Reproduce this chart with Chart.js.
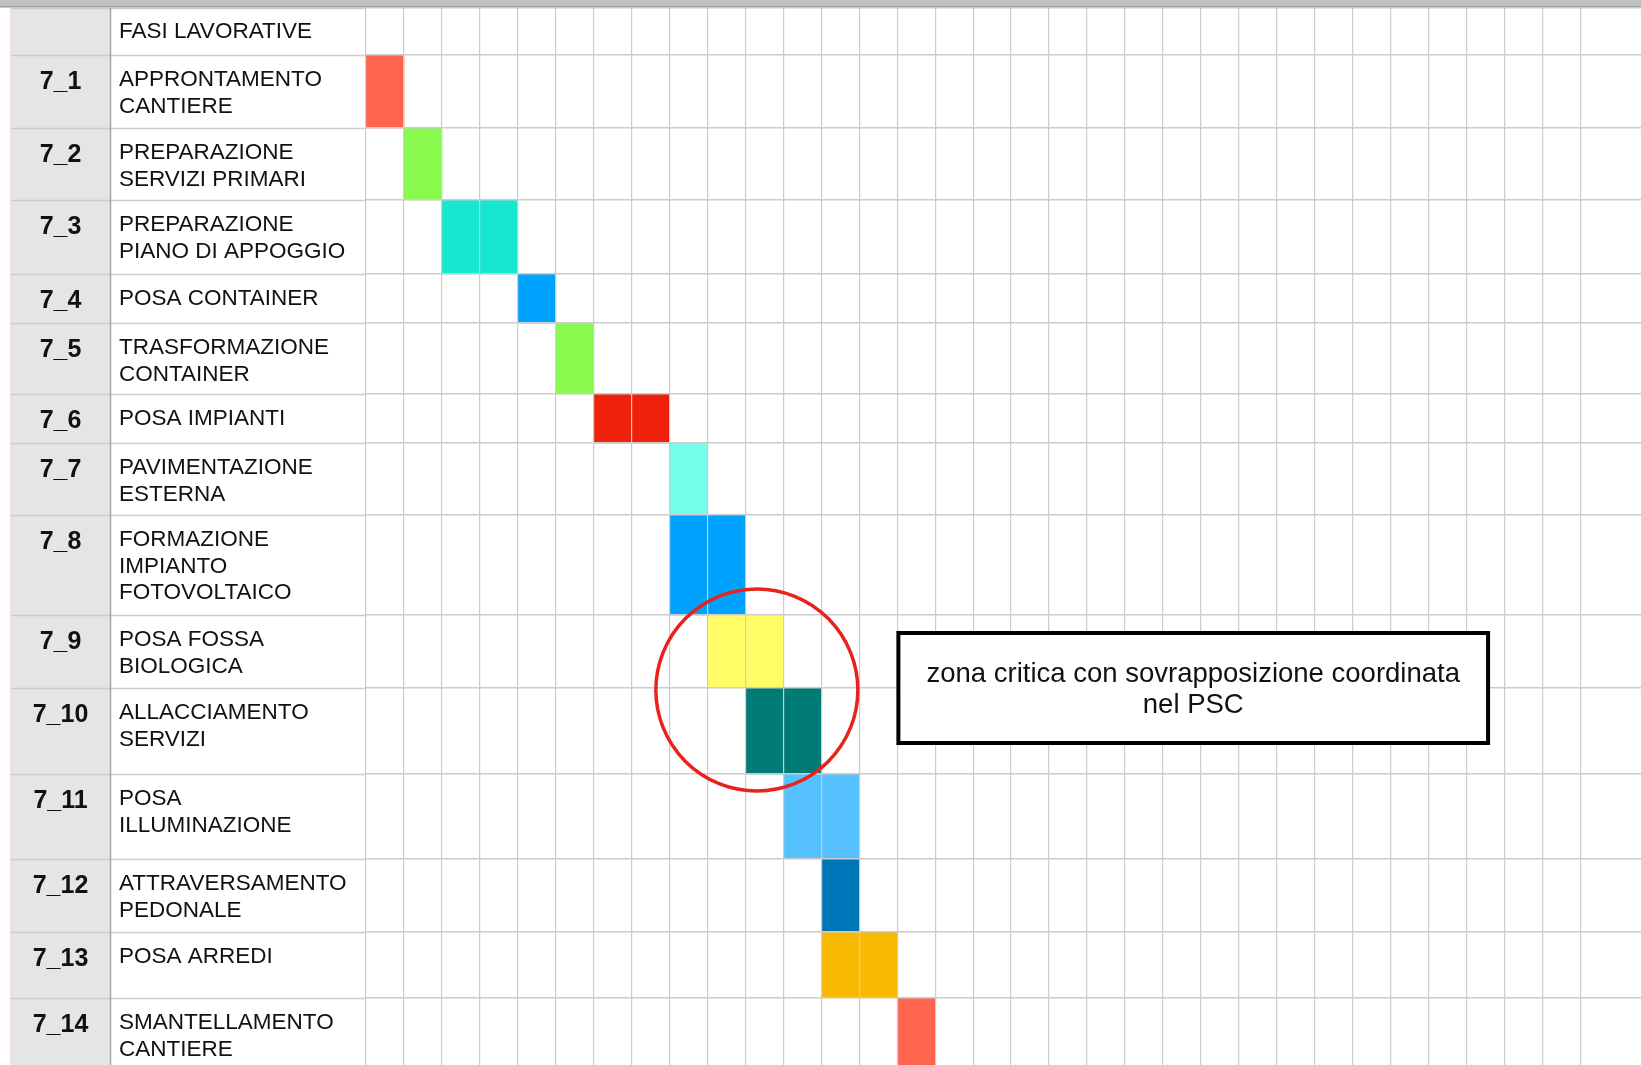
<!DOCTYPE html>
<html>
<head>
<meta charset="utf-8">
<title>Cronoprogramma fasi lavorative</title>
<script src="https://cdn.jsdelivr.net/npm/chart.js@4.4.0/dist/chart.umd.min.js"></script>
<style>
  html, body { margin: 0; padding: 0; background: #fff; }
  #wrap { width: 1641px; height: 1065px; position: relative; }
</style>
</head>
<body>
<div id="wrap"><canvas id="gantt"></canvas></div>
<script>
// fasi lavorative: codice e descrizione (una voce per riga di testo)
const headerLabel = "FASI LAVORATIVE";
const codes = ["7_1", "7_2", "7_3", "7_4", "7_5", "7_6", "7_7", "7_8", "7_9", "7_10", "7_11", "7_12", "7_13", "7_14"];
const phases = [
  ["APPRONTAMENTO", "CANTIERE"],
  ["PREPARAZIONE", "SERVIZI PRIMARI"],
  ["PREPARAZIONE", "PIANO DI APPOGGIO"],
  ["POSA CONTAINER"],
  ["TRASFORMAZIONE", "CONTAINER"],
  ["POSA IMPIANTI"],
  ["PAVIMENTAZIONE", "ESTERNA"],
  ["FORMAZIONE", "IMPIANTO", "FOTOVOLTAICO"],
  ["POSA FOSSA", "BIOLOGICA"],
  ["ALLACCIAMENTO", "SERVIZI"],
  ["POSA", "ILLUMINAZIONE"],
  ["ATTRAVERSAMENTO", "PEDONALE"],
  ["POSA ARREDI"],
  ["SMANTELLAMENTO", "CANTIERE"]
];

// colonna di inizio e numero di colonne occupate
const startCol = [0, 1, 2, 4, 5, 6, 8, 8, 9, 10, 11, 12, 12, 14];
const duration = [1, 1, 2, 1, 1, 2, 1, 2, 2, 2, 2, 1, 2, 1];
const phaseColors = ["#ff644e", "#88fa4e", "#16e7cf", "#00a2ff", "#88fa4e", "#ee220c", "#73fdea",
                     "#00a2ff", "#fffc66", "#017b76", "#56c1ff", "#0076ba", "#f8ba00", "#ff644e"];

const noteText = ["zona critica con sovrapposizione coordinata", "nel PSC"];

// layout: altezza delle righe (intestazione + fasi), numero di colonne visibili
const rowHeights = [47, 73, 72, 74, 49, 71, 49, 72, 100, 73, 86, 85, 73, 66, 72];
const visibleCols = 33.6;
const visibleHeight = 1057;

const rowEdges = [0];
rowHeights.forEach((h) => rowEdges.push(rowEdges[rowEdges.length - 1] + h));

// una barra per ogni cella colorata
const cells = [];
const cellColors = [];
phases.forEach((p, i) => {
  for (let k = 0; k < duration[i]; k++) {
    cells.push({ x: startCol[i] + k + 0.5, y: [rowEdges[i + 1], rowEdges[i + 2]] });
    cellColors.push(phaseColors[i]);
  }
});

const FONT = '"Liberation Sans", Arial, Helvetica, sans-serif';
const gridColor = "#cccccc";

const tablePlugin = {
  id: "tabella",
  beforeDraw(chart) {
    const { ctx, chartArea } = chart;
    ctx.save();
    // barra grigia in alto
    ctx.fillStyle = "#bfc0bf";
    ctx.fillRect(0, 0, chart.width, 7);
    ctx.fillStyle = "#9a9a9a";
    ctx.fillRect(0, 6, chart.width, 1.5);
    // colonna dei codici
    ctx.fillStyle = "#e4e5e4";
    ctx.fillRect(11, chartArea.top, 99, chartArea.bottom - chartArea.top);
    ctx.fillStyle = "#f4dede";
    ctx.fillRect(10, chartArea.top, 1, chartArea.bottom - chartArea.top);
    ctx.restore();
  },
  afterDraw(chart) {
    const { ctx, chartArea, scales } = chart;
    const x = scales.x, y = scales.y;
    ctx.save();

    // righe orizzontali della parte tabellare
    ctx.strokeStyle = gridColor;
    ctx.lineWidth = 1.5;
    rowEdges.forEach((v) => {
      const py = Math.round(y.getPixelForValue(v)) + 0.5;
      ctx.beginPath();
      ctx.moveTo(11, py);
      ctx.lineTo(chartArea.left, py);
      ctx.stroke();
    });
    ctx.strokeStyle = "#a9a9a9";
    ctx.lineWidth = 1.5;
    ctx.beginPath();
    ctx.moveTo(110.5, chartArea.top);
    ctx.lineTo(110.5, chartArea.bottom);
    ctx.stroke();

    // testi
    ctx.fillStyle = "#111";
    ctx.textBaseline = "alphabetic";
    ctx.textAlign = "left";
    ctx.font = "22.5px " + FONT;
    ctx.fillText(headerLabel, 119, y.getPixelForValue(rowEdges[0]) + 30);
    phases.forEach((lines, i) => {
      const top = y.getPixelForValue(rowEdges[i + 1]);
      ctx.font = "22.5px " + FONT;
      ctx.textAlign = "left";
      lines.forEach((t, j) => ctx.fillText(t, 119, top + 31 + j * 26.5));
      ctx.font = "bold 25px " + FONT;
      ctx.textAlign = "center";
      ctx.fillText(codes[i], 60.5, top + 34);
    });

    // cerchio zona critica
    ctx.strokeStyle = "#e8231b";
    ctx.lineWidth = 3.5;
    ctx.beginPath();
    ctx.arc(x.getPixelForValue(10.3), y.getPixelForValue(682), 101, 0, Math.PI * 2);
    ctx.stroke();

    // riquadro nota
    const bx0 = x.getPixelForValue(14.03), bx1 = x.getPixelForValue(29.57);
    const by0 = y.getPixelForValue(625), by1 = y.getPixelForValue(735);
    ctx.fillStyle = "#fff";
    ctx.fillRect(bx0, by0, bx1 - bx0, by1 - by0);
    ctx.strokeStyle = "#000";
    ctx.lineWidth = 4;
    ctx.strokeRect(bx0, by0, bx1 - bx0, by1 - by0);
    ctx.fillStyle = "#111";
    ctx.textAlign = "center";
    ctx.font = "27.5px " + FONT;
    ctx.fillText(noteText[0], (bx0 + bx1) / 2, by0 + 49);
    ctx.fillText(noteText[1], (bx0 + bx1) / 2, by0 + 80);
    ctx.restore();
  }
};

new Chart(document.getElementById("gantt"), {
  type: "bar",
  data: {
    datasets: [{
      data: cells,
      backgroundColor: cellColors,
      borderWidth: 0,
      barPercentage: 1,
      categoryPercentage: 1
    }]
  },
  options: {
    responsive: true,
    maintainAspectRatio: false,
    animation: false,
    layout: { padding: { left: 366, top: 8, right: 0, bottom: 0 } },
    plugins: { legend: { display: false }, tooltip: { enabled: false } },
    scales: {
      x: {
        type: "linear",
        offset: false,
        min: 0,
        max: visibleCols,
        afterBuildTicks: (axis) => {
          axis.ticks = axis.ticks.filter((t) => Number.isInteger(t.value));
        },
        ticks: { display: false, stepSize: 1 },
        grid: { color: gridColor, lineWidth: 1.2, drawTicks: false, offset: false, z: 1 },
        border: { display: false }
      },
      y: {
        type: "linear",
        reverse: true,
        min: 0,
        max: visibleHeight,
        afterBuildTicks: (axis) => {
          axis.ticks = rowEdges.filter((v) => v <= visibleHeight).map((v) => ({ value: v }));
        },
        ticks: { display: false },
        grid: { color: gridColor, lineWidth: 1.5, drawTicks: false, z: 1 },
        border: { display: false }
      }
    }
  },
  plugins: [tablePlugin]
});
</script>
</body>
</html>
